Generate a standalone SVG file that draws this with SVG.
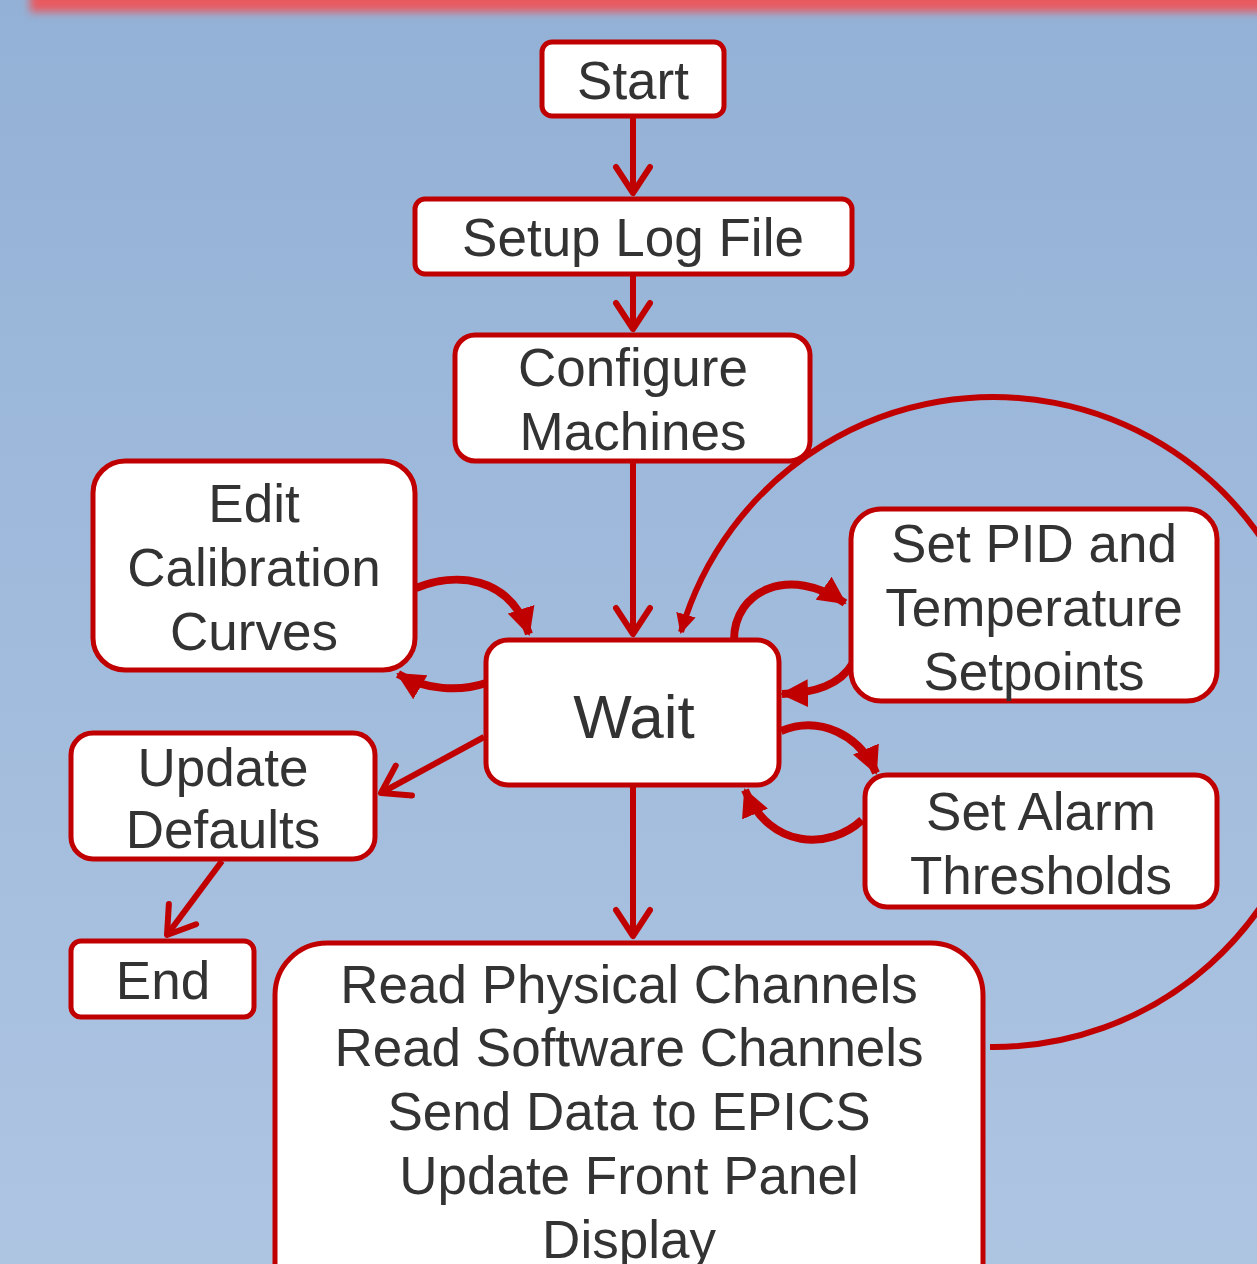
<svg xmlns="http://www.w3.org/2000/svg" width="1257" height="1264" viewBox="0 0 1257 1264">
<defs>
<linearGradient id="bg" x1="0" y1="0" x2="0" y2="1">
<stop offset="0" stop-color="#93b1d6"/>
<stop offset="1" stop-color="#aec5e2"/>
</linearGradient>
<filter id="blur" x="-0.1" y="-2" width="1.2" height="5"><feGaussianBlur stdDeviation="4"/></filter>
<marker id="chev" viewBox="0 0 34 40" refX="30" refY="20" markerWidth="34" markerHeight="40" markerUnits="userSpaceOnUse" orient="auto">
<path d="M 4 3 L 30 20 L 4 37" fill="none" stroke="#c00000" stroke-width="6" stroke-linecap="round" stroke-linejoin="round"/>
</marker>
<marker id="tri" viewBox="0 0 28 28" refX="26" refY="14" markerWidth="28" markerHeight="28" markerUnits="userSpaceOnUse" orient="auto">
<path d="M 0 0 L 28 14 L 0 28 Z" fill="#c00000"/>
</marker>
<marker id="tris" viewBox="0 0 20 20" refX="18" refY="10" markerWidth="20" markerHeight="20" markerUnits="userSpaceOnUse" orient="auto">
<path d="M 0 0 L 20 10 L 0 20 Z" fill="#c00000"/>
</marker>
<style>
.box{fill:#ffffff;stroke:#c00000;stroke-width:5}
.t{font-family:"Liberation Sans",Arial,sans-serif;font-size:53px;fill:#333333;text-anchor:middle}
.ln{fill:none;stroke:#c00000;stroke-width:6}
.cv{fill:none;stroke:#c00000;stroke-width:8}
</style>
</defs>
<rect x="0" y="0" width="1257" height="1264" fill="url(#bg)"/>
<rect x="30" y="-20" width="1260" height="32" fill="#e85a60" filter="url(#blur)"/>

<g id="connectors">
<path class="ln" d="M 990 1047 A 325 325 0 1 0 681 632" stroke-width="5" marker-end="url(#tris)"/>
<line class="ln" x1="633" y1="118" x2="633" y2="193" marker-end="url(#chev)"/>
<line class="ln" x1="633" y1="276" x2="633" y2="329" marker-end="url(#chev)"/>
<line class="ln" x1="633" y1="463" x2="633" y2="634" marker-end="url(#chev)"/>
<line class="ln" x1="633" y1="787" x2="633" y2="936" marker-end="url(#chev)"/>
<line class="ln" x1="484" y1="737" x2="381" y2="793" marker-end="url(#chev)"/>
<line class="ln" x1="222" y1="861" x2="167" y2="935" marker-end="url(#chev)"/>
<path class="cv" d="M 416 588 C 455 572 510 575 529 634" marker-end="url(#tri)"/>
<path class="cv" d="M 486 683 C 460 692 425 690 398 674" marker-end="url(#tri)"/>
<path class="cv" d="M 734 640 C 734 590 790 565 845 603" marker-end="url(#tri)"/>
<path class="cv" d="M 853 663 C 840 685 815 693 782 694" marker-end="url(#tri)"/>
<path class="cv" d="M 781 731 C 820 715 860 735 876 773" marker-end="url(#tri)"/>
<path class="cv" d="M 862 820 C 830 850 770 850 745 790" marker-end="url(#tri)"/>
</g>

<g id="start">
<rect class="box" x="542" y="42" width="182" height="74" rx="10"/>
<text class="t" x="633" y="99">Start</text>
</g>
<g id="setup-log">
<rect class="box" x="415" y="199" width="437" height="75" rx="10"/>
<text class="t" x="633" y="256">Setup Log File</text>
</g>
<g id="configure">
<rect class="box" x="455" y="335" width="355" height="126" rx="20"/>
<text class="t" x="633" y="386">Configure</text>
<text class="t" x="633" y="450">Machines</text>
</g>
<g id="edit-cal">
<rect class="box" x="93" y="461" width="322" height="209" rx="32"/>
<text class="t" x="254" y="522">Edit</text>
<text class="t" x="254" y="586">Calibration</text>
<text class="t" x="254" y="650">Curves</text>
</g>
<g id="wait">
<rect class="box" x="486" y="640" width="293" height="145" rx="22"/>
<text class="t" x="634" y="738" style="font-size:62px">Wait</text>
</g>
<g id="set-pid">
<rect class="box" x="851" y="509" width="366" height="192" rx="30"/>
<text class="t" x="1034" y="562">Set PID and</text>
<text class="t" x="1034" y="626">Temperature</text>
<text class="t" x="1034" y="690">Setpoints</text>
</g>
<g id="update-defaults">
<rect class="box" x="71" y="733" width="304" height="126" rx="22"/>
<text class="t" x="223" y="786">Update</text>
<text class="t" x="223" y="848">Defaults</text>
</g>
<g id="set-alarm">
<rect class="box" x="865" y="775" width="352" height="132" rx="22"/>
<text class="t" x="1041" y="830">Set Alarm</text>
<text class="t" x="1041" y="894">Thresholds</text>
</g>
<g id="end">
<rect class="box" x="71" y="941" width="183" height="76" rx="10"/>
<text class="t" x="163" y="999">End</text>
</g>
<g id="read">
<rect class="box" x="275" y="943" width="708" height="380" rx="52"/>
<text class="t" x="629" y="1003">Read Physical Channels</text>
<text class="t" x="629" y="1066">Read Software Channels</text>
<text class="t" x="629" y="1130">Send Data to EPICS</text>
<text class="t" x="629" y="1194">Update Front Panel</text>
<text class="t" x="629" y="1258">Display</text>
</g>
</svg>
